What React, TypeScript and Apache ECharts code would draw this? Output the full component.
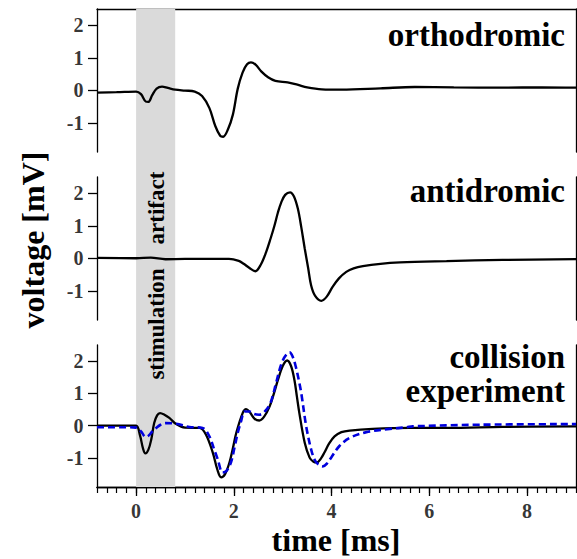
import React, { useEffect, useRef } from "react";
import * as echarts from "echarts";

// ---------- data ----------
const orthoTime = [-0.8, -0.4, 0.0, 0.1, 0.2, 0.25, 0.33, 0.42, 0.53, 0.65, 0.8, 1.0, 1.2, 1.35, 1.5, 1.62, 1.72, 1.78, 1.88, 1.98, 2.08, 2.18, 2.27, 2.35, 2.45, 2.56, 2.7, 2.85, 3.1, 3.3, 3.5, 3.8, 4.2, 5.0, 5.7, 6.5, 7.5, 8.3, 9.0];
const orthoVolt = [-0.07, -0.06, -0.04, -0.12, -0.35, -0.36, -0.15, 0.05, 0.11, 0.07, 0.02, -0.01, -0.04, -0.18, -0.55, -1.1, -1.4, -1.43, -1.2, -0.75, 0.05, 0.55, 0.8, 0.86, 0.78, 0.58, 0.4, 0.29, 0.24, 0.17, 0.09, 0.03, 0.02, 0.06, 0.1, 0.09, 0.08, 0.09, 0.08];

const antiTime = [-0.8, 0.0, 0.3, 0.6, 1.0, 1.9, 2.1, 2.2, 2.32, 2.44, 2.55, 2.66, 2.75, 2.83, 2.9, 2.97, 3.05, 3.15, 3.23, 3.31, 3.38, 3.45, 3.52, 3.58, 3.66, 3.79, 3.9, 4.02, 4.15, 4.3, 4.45, 4.64, 5.0, 5.4, 6.35, 7.5, 9.0];
const antiVolt = [0.01, 0.0, 0.02, -0.03, -0.02, -0.02, -0.08, -0.17, -0.3, -0.4, -0.2, 0.19, 0.6, 1.0, 1.4, 1.72, 1.95, 2.03, 1.9, 1.52, 0.95, 0.3, -0.3, -0.83, -1.15, -1.31, -1.18, -0.88, -0.62, -0.42, -0.31, -0.24, -0.17, -0.13, -0.09, -0.05, -0.03];

const collTime = [-0.8, -0.2, 0.0, 0.08, 0.14, 0.19, 0.25, 0.31, 0.37, 0.43, 0.49, 0.58, 0.68, 0.82, 1.0, 1.3, 1.43, 1.57, 1.66, 1.74, 1.82, 1.91, 1.98, 2.05, 2.18, 2.25, 2.32, 2.42, 2.52, 2.62, 2.73, 2.82, 2.9, 3.0, 3.09, 3.17, 3.24, 3.29, 3.34, 3.45, 3.55, 3.63, 3.7, 3.78, 3.85, 3.95, 4.06, 4.2, 4.37, 4.84, 5.6, 6.35, 7.5, 9.0];
const collVolt = [0.0, 0.0, 0.0, -0.3, -0.7, -0.86, -0.75, -0.43, 0.08, 0.32, 0.39, 0.34, 0.24, 0.05, -0.06, -0.07, -0.28, -0.84, -1.35, -1.6, -1.5, -1.14, -0.7, -0.22, 0.39, 0.51, 0.43, 0.22, 0.16, 0.28, 0.59, 1.0, 1.41, 1.85, 2.02, 1.85, 1.41, 0.9, 0.39, -0.53, -0.99, -1.12, -1.14, -1.02, -0.84, -0.55, -0.33, -0.2, -0.15, -0.1, -0.07, -0.07, -0.04, -0.02];

const sumTime = [-0.8, -0.2, 0.0, 0.1, 0.2, 0.26, 0.33, 0.41, 0.5, 0.61, 0.82, 1.09, 1.36, 1.5, 1.6, 1.67, 1.77, 1.85, 1.94, 2.01, 2.08, 2.15, 2.22, 2.32, 2.42, 2.52, 2.62, 2.73, 2.8, 2.86, 3.0, 3.14, 3.2, 3.27, 3.33, 3.38, 3.48, 3.58, 3.65, 3.72, 3.82, 3.9, 3.99, 4.16, 4.37, 4.71, 5.19, 5.53, 5.66, 7.03, 9.0];
const sumVolt = [-0.05, -0.05, -0.06, -0.18, -0.35, -0.3, -0.18, -0.07, 0.03, 0.08, 0.06, -0.04, -0.07, -0.33, -0.75, -1.04, -1.45, -1.4, -1.14, -0.7, -0.22, 0.15, 0.44, 0.44, 0.36, 0.34, 0.42, 0.64, 0.95, 1.3, 2.02, 2.27, 2.15, 1.81, 1.4, 1.0, -0.02, -0.73, -1.05, -1.19, -1.26, -1.18, -0.99, -0.63, -0.38, -0.2, -0.1, -0.05, -0.02, 0.03, 0.05];

const stimWindow = [0, 0.8];
const xTickMajor = [0, 2, 4, 6, 8];
const yTicks = [-1, 0, 1, 2];
const xRange = [-0.8, 9];
const yRange = [-1.9, 2.5];
const panelTitles = ["orthodromic", "antidromic", "collision", "experiment"];

const pairs = (t: number[], v: number[]) => t.map((x, i) => [x, v[i]]);

const FONT = "Liberation Serif";

export default function App() {
  const ref = useRef<HTMLDivElement>(null);
  useEffect(() => {
    if (!ref.current) return;
    const chart = echarts.init(ref.current, undefined, { renderer: "svg" });
    const axisLine = { show: true, onZero: false, lineStyle: { color: "#000", width: 1.3 } };
    const yLeft = (gridIndex: number) => ({
      type: "value",
      gridIndex,
      position: "left",
      min: yRange[0],
      max: yRange[1],
      axisLine,
      axisTick: { show: true, length: 9, customValues: yTicks, lineStyle: { color: "#000", width: 1.3 } },
      axisLabel: { show: false },
      splitLine: { show: false },
    });
    const yRight = (gridIndex: number) => ({
      type: "value",
      gridIndex,
      position: "right",
      min: yRange[0],
      max: yRange[1],
      axisLine,
      axisTick: { show: false },
      axisLabel: { show: false },
      splitLine: { show: false },
    });
    const lineSeries = (data: number[][], xi: number, yi: number, extra: any = {}) => ({
      type: "line",
      xAxisIndex: xi,
      yAxisIndex: yi,
      data,
      showSymbol: false,
      symbol: "none",
      smooth: 0.35,
      silent: true,
      z: 3,
      lineStyle: { color: "#000", width: 2.3 },
      ...extra,
    });
    // tick labels drawn as labels of invisible points placed by the axes' own scales
    const tickLabels = (data: number[][], xi: number, yi: number, dim: number, position: string, distance: number) => ({
      type: "scatter",
      xAxisIndex: xi,
      yAxisIndex: yi,
      data,
      symbolSize: 1,
      itemStyle: { color: "rgba(0,0,0,0)" },
      silent: true,
      clip: false,
      z: 5,
      label: {
        show: true,
        position,
        distance,
        formatter: (p: any) => String(p.value[dim]),
        color: "#000",
        fontFamily: FONT,
        fontWeight: "bold",
        fontSize: 20,
      },
    });
    const textEl = (text: string, x: number, y: number, size: number, align: string, rotation = 0) => ({
      type: "text",
      x,
      y,
      rotation,
      z: 10,
      style: {
        text,
        fill: "#000",
        fontFamily: FONT,
        fontWeight: "bold",
        fontSize: size,
        textAlign: align,
        textVerticalAlign: "middle",
        align,
        verticalAlign: "middle",
      },
    });
    chart.setOption({
      animation: false,
      backgroundColor: "#fff",
      textStyle: { fontFamily: FONT, fontWeight: "bold", fontSize: 20, color: "#000" },
      grid: [
        { left: 97, top: 9, width: 479, height: 143 },
        { left: 97, top: 177, width: 479, height: 143 },
        { left: 97, top: 345, width: 479, height: 142 },
        { left: 97, top: 9, width: 479, height: 478 },
      ],
      xAxis: [
        {
          type: "value", gridIndex: 0, position: "top", min: xRange[0], max: xRange[1],
          axisLine, axisTick: { show: false }, axisLabel: { show: false }, splitLine: { show: false },
        },
        { type: "value", gridIndex: 1, min: xRange[0], max: xRange[1], show: false },
        {
          type: "value", gridIndex: 2, position: "bottom", min: xRange[0], max: xRange[1], interval: 0.2,
          axisLine, axisTick: { show: true, length: 6, lineStyle: { color: "#000", width: 1.2 } },
          axisLabel: { show: false }, splitLine: { show: false },
        },
        {
          type: "value", gridIndex: 2, position: "bottom", min: xRange[0], max: xRange[1],
          axisLine,
          axisTick: { show: true, length: 9, customValues: xTickMajor, lineStyle: { color: "#000", width: 1.3 } },
          axisLabel: { show: false },
          splitLine: { show: false },
        },
        { type: "value", gridIndex: 3, min: xRange[0], max: xRange[1], show: false },
      ],
      yAxis: [
        yLeft(0), yRight(0),
        yLeft(1), yRight(1),
        yLeft(2), yRight(2),
        { type: "value", gridIndex: 3, min: 0, max: 1, show: false },
      ],
      series: [
        {
          type: "line",
          xAxisIndex: 4,
          yAxisIndex: 6,
          data: [[xRange[0], 0]],
          showSymbol: false,
          symbol: "none",
          lineStyle: { opacity: 0 },
          silent: true,
          z: -1,
          markArea: {
            silent: true,
            itemStyle: { color: "#dadada" },
            data: [[{ xAxis: stimWindow[0] }, { xAxis: stimWindow[1] }]],
          },
        },
        lineSeries(pairs(orthoTime, orthoVolt), 0, 0),
        lineSeries(pairs(antiTime, antiVolt), 1, 2),
        lineSeries(pairs(collTime, collVolt), 2, 4),
        lineSeries(pairs(sumTime, sumVolt), 2, 4, {
          z: 4,
          lineStyle: { color: "#0000dd", width: 2.6, type: [7, 4] },
        }),
        tickLabels(yTicks.map((v) => [xRange[0], v]), 0, 0, 1, "left", 13),
        tickLabels(yTicks.map((v) => [xRange[0], v]), 1, 2, 1, "left", 13),
        tickLabels(yTicks.map((v) => [xRange[0], v]), 2, 4, 1, "left", 13),
        tickLabels(xTickMajor.map((v) => [v, yRange[0]]), 3, 4, 0, "bottom", 13),
      ],
      graphic: [
        textEl(panelTitles[0], 565, 35, 33, "right"),
        textEl(panelTitles[1], 565, 191, 33, "right"),
        textEl(panelTitles[2], 565, 357, 33, "right"),
        textEl(panelTitles[3], 565, 391, 33, "right"),
        textEl("artifact", 156, 208, 23, "center", Math.PI / 2),
        textEl("stimulation", 156, 324, 23, "center", Math.PI / 2),
        textEl("voltage [mV]", 33, 240, 32, "center", Math.PI / 2),
        textEl("time [ms]", 336, 540, 32, "center"),
      ],
    });
    return () => chart.dispose();
  }, []);
  return (
    <div
      ref={ref}
      style={{ position: "absolute", left: 0, top: 0, width: 577, height: 559 }}
    />
  );
}
